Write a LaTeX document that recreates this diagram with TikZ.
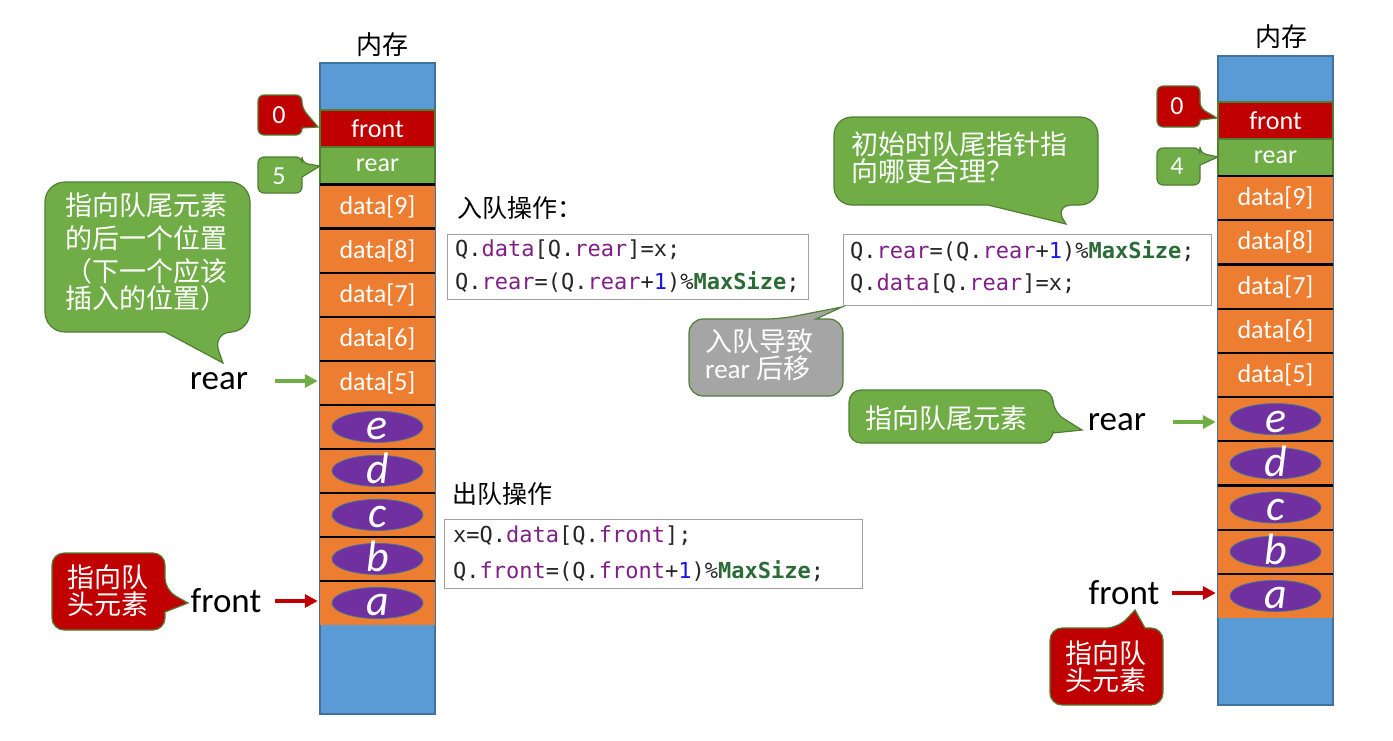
\documentclass[tikz,border=0pt]{standalone}
\usepackage{fontspec}
\setmainfont{Carlito}
\newfontfamily\cjk{Noto Sans CJK SC}
\newfontfamily\codef{DejaVu Sans Mono}
\usetikzlibrary{arrows.meta,shapes.geometric,calc}
\definecolor{cblue}{HTML}{5B9BD5}
\definecolor{cborder}{HTML}{41719C}
\definecolor{corange}{HTML}{ED7D31}
\definecolor{cred}{HTML}{C00000}
\definecolor{cgreen}{HTML}{70AD47}
\definecolor{cgreenb}{HTML}{507E32}
\definecolor{cpurple}{HTML}{7030A0}
\definecolor{cgray}{HTML}{A5A5A5}
\definecolor{kw}{HTML}{7F1F87}
\definecolor{num}{HTML}{1515E6}
\definecolor{mac}{HTML}{2A6B36}
\definecolor{boxgray}{HTML}{A0A0A0}
\newcommand{\fsz}[1]{\fontsize{#1}{#1}\selectfont}
\begin{document}
\begin{tikzpicture}[x=1pt,y=-1pt,
  cell/.style={minimum width=115pt, minimum height=44.1pt, inner sep=0pt, text=white, font=\fsz{26}, fill=corange},
  ptrcell/.style={minimum width=115pt, minimum height=37pt, inner sep=0pt, text=white, font=\fsz{26}, draw=cgreenb, line width=1.2pt},
  elem/.style={ellipse, fill=cpurple, draw=cborder, line width=0.8pt, minimum width=91pt, minimum height=31pt, inner sep=0pt},
  letter/.style={text=white, font=\fsz{44}\itshape, inner sep=0pt, anchor=base},
  sepline/.style={line width=2.2pt, black},
  lbl/.style={font=\fsz{35}, inner sep=0pt},
  garrow/.style={draw=cgreen, line width=3.5pt, -{Triangle[length=13pt,width=13pt]}, shorten >=2pt},
  rarrow/.style={draw=cred, line width=3.5pt, -{Triangle[length=13pt,width=13pt]}, shorten >=2pt},
  callg/.style={fill=cgreen, draw=cgreenb, line width=1.2pt},
  callr/.style={fill=cred, draw=cgreenb, line width=1.2pt},
  callgray/.style={fill=cgray, draw=cgreenb, line width=1.2pt},
  ctext/.style={text=white, font=\cjk\fsz{27}, inner sep=0pt, align=left},
  ntext/.style={text=white, font=\fsz{26}, inner sep=0pt},
  codebox/.style={draw=boxgray, line width=1pt},
  code/.style={font=\codef\fsz{22}, inner sep=0pt, anchor=west, text=black!85},
  ttl/.style={font=\cjk\fsz{25}, inner sep=0pt}
]
\useasboundingbox (0,0) rectangle (1393,740);

% ===== left memory column =====
\node[ttl, font=\cjk\fsz{26}] (memL) at (382,45) {内存};
\draw[fill=cblue, draw=cborder, line width=1.5pt] (320,63) rectangle (435,714);
\node[ptrcell, fill=cred] (Lf) at (377.5,128.5) {front};
\node[ptrcell, fill=cgreen] (Lr) at (377.5,165.5) {rear};
\foreach \k/\n in {0/9,1/8,2/7,3/6,4/5}
  \node[cell] (L\n) at (377.5,{184.5+44.05*(\k+0.5)}) {data[\n]};
\foreach \k/\n in {5/4,6/3,7/2,8/1,9/0}
  \node[cell] (L\n) at (377.5,{184.5+44.05*(\k+0.5)}) {};
\foreach \k in {0,...,9}
  \draw[sepline] (320,{184.5+44.05*\k}) -- (435,{184.5+44.05*\k});
\foreach \n/\l in {4/e,3/d,2/c,1/b,0/a}{
  \node[elem] (LE\l) at (L\n) {};
  \node[letter] (LT\l) at ([yshift=-13pt]LE\l.center) {\l};
}

% ===== right memory column =====
\node[ttl, font=\cjk\fsz{26}] (memR) at (1281,37) {内存};
\draw[fill=cblue, draw=cborder, line width=1.5pt] (1218,56) rectangle (1333,705);
\node[ptrcell, fill=cred] (Rf) at (1275.5,120.5) {front};
\node[ptrcell, fill=cgreen] (Rr) at (1275.5,157.5) {rear};
\foreach \k/\n in {0/9,1/8,2/7,3/6,4/5}
  \node[cell] (R\n) at (1275.5,{176+44.2*(\k+0.5)}) {data[\n]};
\foreach \k/\n in {5/4,6/3,7/2,8/1,9/0}
  \node[cell] (R\n) at (1275.5,{176+44.2*(\k+0.5)}) {};
\foreach \k in {0,...,9}
  \draw[sepline] (1218,{176+44.2*\k}) -- (1333,{176+44.2*\k});
\foreach \n/\l in {4/e,3/d,2/c,1/b,0/a}{
  \node[elem] (RE\l) at (R\n) {};
  \node[letter] (RT\l) at ([yshift=-13pt]RE\l.center) {\l};
}

% ===== left callouts =====
\path[callr, rounded corners=6pt] (258,95) -- (302,95) -- (302,108) [sharp corners] -- (318,127) -- (302,128) [rounded corners=6pt] -- (302,135) -- (258,135) -- cycle;
\node[ntext] (n0L) at (279,115) {0};
\path[callg, rounded corners=6pt] (258,157) -- (302,157) -- (302,163) [sharp corners] -- (320,166) -- (302,177) [rounded corners=6pt] -- (302,193) -- (258,193) -- cycle;
\node[ntext] (n5L) at (279,176) {5};

\path[callg, rounded corners=20pt] (45,182) -- (250,182) -- (250,332) -- (212,332) [sharp corners] -- (223,363) -- (165,332) [rounded corners=20pt] -- (45,332) -- cycle;
\node[ctext, anchor=north west, text width=170pt] (bigL) at (65,193) {\baselineskip=33pt 指向队尾元素\\的后一个位置\\（下一个应该\\插入的位置）};

\path[callr, rounded corners=12pt] (52,553) -- (165,553) -- (165,590) [sharp corners] -- (188,603) -- (165,612) [rounded corners=12pt] -- (165,630) -- (52,630) -- cycle;
\node[ctext, align=center] (headL) at (108,591) {\baselineskip=31pt 指向队\\头元素};

\node[lbl] (rearL) at (219,381) {rear};
\draw[garrow] ([xshift=27pt]rearL.east) -- (rearL.east -| L5.west);
\node[lbl] (frontL) at (226,601) {front};
\draw[rarrow] ([xshift=14pt]frontL.east) -- (frontL.east -| L0.west);

% ===== code: enqueue =====
\node[ttl, anchor=west] (enqT) at (457,208) {入队操作：};
\draw[codebox] (447,234) rectangle (808,299);
\node[code] (enq1) at (455,250) {Q.\textcolor{kw}{data}[Q.\textcolor{kw}{rear}]=x;};
\node[code] (enq2) at (455,282) {Q.\textcolor{kw}{rear}=(Q.\textcolor{kw}{rear}+\textcolor{num}{1})\%\textcolor{mac}{\bfseries MaxSize};};

% ===== code: dequeue =====
\node[ttl, anchor=west] (deqT) at (452,494) {出队操作};
\draw[codebox] (444,519) rectangle (862,588);
\node[code] (deq1) at (453,536) {x=Q.\textcolor{kw}{data}[Q.\textcolor{kw}{front}];};
\node[code] (deq2) at (453,571) {Q.\textcolor{kw}{front}=(Q.\textcolor{kw}{front}+\textcolor{num}{1})\%\textcolor{mac}{\bfseries MaxSize};};

% ===== code: alternative enqueue =====
\draw[codebox] (843,234) rectangle (1211,305);
\node[code] (alt1) at (850,251) {Q.\textcolor{kw}{rear}=(Q.\textcolor{kw}{rear}+\textcolor{num}{1})\%\textcolor{mac}{\bfseries MaxSize};};
\node[code] (alt2) at (850,284) {Q.\textcolor{kw}{data}[Q.\textcolor{kw}{rear}]=x;};

% ===== middle callouts =====
\path[callg, rounded corners=18pt] (834,117) -- (1098,117) -- (1098,205) -- (1054,205) [sharp corners] -- (1066,224) -- (988,205) [rounded corners=18pt] -- (834,205) -- cycle;
\node[ctext, anchor=north west] (qtext) at (851,132) {\baselineskip=31pt 初始时队尾指针指\\向哪更合理？};

\path[callgray, rounded corners=14pt] (689,319) -- (780,319) [sharp corners] -- (842,307) -- (816,319) [rounded corners=14pt] -- (843,319) -- (843,396) -- (689,396) -- cycle;
\node[ctext, anchor=north west] (graytext) at (705,329) {\baselineskip=32pt 入队导致\\{\rmfamily\fsz{27}rear} 后移};

\path[callg, rounded corners=12pt] (849,390) -- (1053,390) -- (1053,412) [sharp corners] -- (1082,430) -- (1053,433) [rounded corners=12pt] -- (1053,443) -- (849,443) -- cycle;
\node[ctext] (tailR) at (946,418) {指向队尾元素};

% ===== right callouts =====
\path[callr, rounded corners=6pt] (1157,86) -- (1200,86) -- (1200,108) [sharp corners] -- (1217,118) -- (1200,120) [rounded corners=6pt] -- (1200,127) -- (1157,127) -- cycle;
\node[ntext] (n0R) at (1177,106) {0};
\path[callg, rounded corners=6pt] (1157,148) -- (1200,148) -- (1200,153) [sharp corners] -- (1218,157) -- (1200,165) [rounded corners=6pt] -- (1200,185) -- (1157,185) -- cycle;
\node[ntext] (n4R) at (1177,166) {4};

\node[lbl] (rearR) at (1117,422) {rear};
\draw[garrow] ([xshift=27pt]rearR.east) -- (rearR.east -| R4.west);
\node[lbl] (frontR) at (1124,593) {front};
\draw[rarrow] ([xshift=13pt]frontR.east) -- (frontR.east -| R0.west);

\path[callr, rounded corners=12pt] (1050,628) -- (1118,628) [sharp corners] -- (1135,610) -- (1145,628) [rounded corners=12pt] -- (1163,628) -- (1163,705) -- (1050,705) -- cycle;
\node[ctext, align=center] (headR) at (1106,667) {\baselineskip=31pt 指向队\\头元素};
\end{tikzpicture}
\end{document}
